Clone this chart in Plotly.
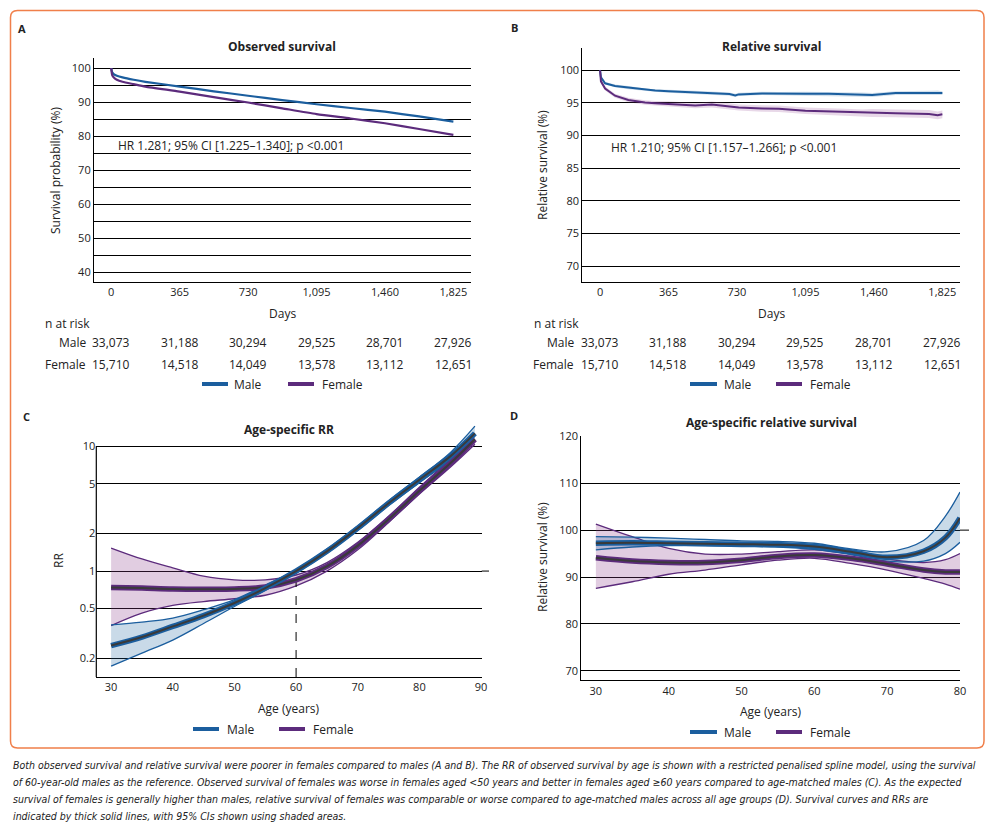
import plotly.graph_objects as go

W, H = 992, 831

# ---------------- DATA ----------------
days_ticks = [0, 365, 730, 1095, 1460, 1825]
days_ticktext = ["0", "365", "730", "1,095", "1,460", "1,825"]
risk_male = ["33,073", "31,188", "30,294", "29,525", "28,701", "27,926"]
risk_female = ["15,710", "14,518", "14,049", "13,578", "13,112", "12,651"]

# Panel A: observed survival (%)
obs_days = [0, 5, 15, 30, 60, 120, 182, 365, 547, 730, 912, 1095, 1277, 1460, 1642, 1825]
obs_male = [100, 98.8, 98.2, 97.8, 97.3, 96.6, 96.0, 94.6, 93.2, 91.9, 90.6, 89.4, 88.3, 87.2, 85.8, 84.3]
obs_female = [100, 98.0, 97.2, 96.6, 96.0, 95.3, 94.6, 93.1, 91.5, 89.9, 88.2, 86.5, 85.2, 83.8, 82.1, 80.4]

# Panel B: relative survival (%)
rel_days = [0, 5, 27, 80, 151, 240, 294, 365, 507, 596, 690, 721, 739, 864, 953, 1095, 1220, 1309, 1398, 1451, 1576, 1754, 1800, 1825]
rel_male = [100, 98.9, 98.0, 97.6, 97.35, 97.0, 96.9, 96.8, 96.6, 96.5, 96.35, 96.15, 96.3, 96.45, 96.4, 96.4, 96.4, 96.35, 96.3, 96.2, 96.5, 96.55, 96.6, 96.5]
rel_male_lo = [99.8, 98.7, 97.8, 97.4, 97.1, 96.8, 96.7, 96.55, 96.35, 96.25, 96.1, 95.9, 96.05, 96.2, 96.15, 96.1, 96.1, 96.05, 96.0, 95.9, 96.2, 96.25, 96.3, 96.2]
rel_male_hi = [100.2, 99.1, 98.2, 97.8, 97.6, 97.2, 97.1, 97.05, 96.85, 96.75, 96.6, 96.4, 96.55, 96.7, 96.65, 96.7, 96.7, 96.65, 96.6, 96.5, 96.8, 96.85, 96.9, 96.8]
rel_female = [100, 98.3, 97.2, 96.1, 95.45, 95.05, 94.95, 94.85, 94.6, 94.75, 94.5, 94.35, 94.3, 94.15, 94.1, 93.8, 93.7, 93.55, 93.45, 93.45, 93.4, 93.3, 93.1, 93.25]
rel_female_lo = [99.7, 98.0, 96.9, 95.8, 95.1, 94.7, 94.6, 94.45, 94.2, 94.3, 94.05, 93.9, 93.85, 93.65, 93.6, 93.3, 93.15, 93.0, 92.9, 92.85, 92.8, 92.7, 92.5, 92.65]
rel_female_hi = [100.3, 98.6, 97.5, 96.4, 95.8, 95.4, 95.3, 95.25, 95.0, 95.2, 94.95, 94.8, 94.75, 94.65, 94.6, 94.3, 94.25, 94.1, 94.0, 94.05, 94.0, 93.9, 93.7, 93.85]

# Panel C: age-specific RR
rr_age = [30, 35, 40, 45, 50, 55, 60, 65, 70, 75, 80, 85, 89]
rr_male = [0.253, 0.296, 0.36, 0.44, 0.555, 0.73, 1.0, 1.44, 2.21, 3.5, 5.4, 8.3, 12.7]
rr_male_hi = [0.37, 0.39, 0.42, 0.49, 0.59, 0.77, 1.03, 1.5, 2.3, 3.65, 5.65, 8.9, 14.5]
rr_male_lo = [0.173, 0.22, 0.28, 0.38, 0.52, 0.70, 0.965, 1.39, 2.12, 3.35, 5.1, 7.7, 11.1]
rr_female = [0.74, 0.73, 0.718, 0.715, 0.718, 0.745, 0.85, 1.09, 1.6, 2.6, 4.4, 7.3, 11.4]
rr_female_hi = [1.53, 1.25, 1.06, 0.91, 0.85, 0.85, 0.93, 1.17, 1.7, 2.75, 4.7, 7.9, 12.5]
rr_female_lo = [0.365, 0.46, 0.53, 0.57, 0.60, 0.64, 0.76, 1.0, 1.48, 2.45, 4.15, 6.8, 10.4]
rr_ticks = [0.2, 0.5, 1, 2, 5, 10]

# Panel D: age-specific relative survival (%)
rs_age = [30, 35, 40, 45, 50, 55, 60, 65, 70, 75, 78, 80]
rs_male = [97.2, 97.3, 97.2, 97.1, 97.0, 96.9, 96.5, 95.4, 94.2, 95.5, 98.4, 102.6]
rs_male_hi = [98.6, 98.5, 98.3, 98.0, 97.7, 97.6, 97.2, 96.0, 95.4, 97.8, 103.0, 108.1]
rs_male_lo = [95.8, 96.4, 96.7, 96.7, 96.5, 96.4, 95.9, 94.8, 93.4, 93.4, 95.0, 97.4]
rs_female = [94.1, 93.4, 93.1, 93.1, 93.6, 94.4, 94.7, 94.0, 92.8, 91.5, 91.1, 91.1]
rs_female_hi = [101.3, 98.6, 96.1, 94.9, 94.9, 95.4, 95.8, 94.9, 93.8, 93.1, 93.7, 95.0]
rs_female_lo = [87.6, 89.0, 90.6, 91.5, 92.6, 93.6, 94.0, 92.9, 91.5, 89.7, 88.5, 87.4]

# ---------------- STYLE ----------------
MALE = "#1B5E9E"
FEMALE = "#5C2B7C"
MALE_FILL = "rgba(31,99,160,0.24)"
FEMALE_FILL = "rgba(140,60,140,0.26)"
DARK = "#3a3a3a"
FONT = "Open Sans"
BORDER = "#F07F4A"


def px(x):
    return x / W


def py(y):
    return 1 - y / H


fig = go.Figure()


def add_band(xs, lo, hi, color, fill, xa, ya, shape="linear", lw=1.3):
    fig.add_trace(go.Scatter(x=xs, y=lo, mode="lines", line=dict(color=color, width=lw, shape=shape),
                             showlegend=False, hoverinfo="skip", xaxis=xa, yaxis=ya))
    fig.add_trace(go.Scatter(x=xs, y=hi, mode="lines", line=dict(color=color, width=lw, shape=shape),
                             fill="tonexty", fillcolor=fill, showlegend=False, hoverinfo="skip",
                             xaxis=xa, yaxis=ya))


def add_fit(xs, ys, color, xa, ya):
    fig.add_trace(go.Scatter(x=xs, y=ys, mode="lines", line=dict(color=color, width=5.5, shape="spline"),
                             showlegend=False, xaxis=xa, yaxis=ya))
    fig.add_trace(go.Scatter(x=xs, y=ys, mode="lines", line=dict(color=DARK, width=2, shape="spline"),
                             showlegend=False, xaxis=xa, yaxis=ya))


# Panel A
fig.add_trace(go.Scatter(x=obs_days, y=obs_male, mode="lines", line=dict(color=MALE, width=2.2, shape="spline", smoothing=0.6),
                         name="Male", showlegend=False, xaxis="x", yaxis="y"))
fig.add_trace(go.Scatter(x=obs_days, y=obs_female, mode="lines", line=dict(color=FEMALE, width=2.2, shape="spline", smoothing=0.6),
                         name="Female", showlegend=False, xaxis="x", yaxis="y"))

# Panel B
add_band(rel_days, rel_male_lo, rel_male_hi, "rgba(0,0,0,0)", "rgba(31,99,160,0.2)", "x2", "y2", lw=0)
add_band(rel_days, rel_female_lo, rel_female_hi, "rgba(0,0,0,0)", "rgba(140,60,140,0.2)", "x2", "y2", lw=0)
fig.add_trace(go.Scatter(x=rel_days, y=rel_male, mode="lines", line=dict(color=MALE, width=2),
                         showlegend=False, xaxis="x2", yaxis="y2"))
fig.add_trace(go.Scatter(x=rel_days, y=rel_female, mode="lines", line=dict(color=FEMALE, width=2),
                         showlegend=False, xaxis="x2", yaxis="y2"))

# Panel C
C_YMIN = 10 ** -0.849
add_band(rr_age, rr_female_lo, rr_female_hi, FEMALE, FEMALE_FILL, "x3", "y3", shape="spline")
add_band(rr_age, rr_male_lo, rr_male_hi, MALE, MALE_FILL, "x3", "y3", shape="spline")
fig.add_trace(go.Scatter(x=[60, 60], y=[C_YMIN, 1], mode="lines", line=dict(color="black", width=1, dash="dash"),
                         showlegend=False, hoverinfo="skip", xaxis="x3", yaxis="y3"))
add_fit(rr_age, rr_female, FEMALE, "x3", "y3")
add_fit(rr_age, rr_male, MALE, "x3", "y3")

# Panel D
add_band(rs_age, rs_female_lo, rs_female_hi, FEMALE, FEMALE_FILL, "x4", "y4", shape="spline")
add_band(rs_age, rs_male_lo, rs_male_hi, MALE, MALE_FILL, "x4", "y4", shape="spline")
add_fit(rs_age, rs_female, FEMALE, "x4", "y4")
add_fit(rs_age, rs_male, MALE, "x4", "y4")

tickfont = dict(family=FONT, size=11, color="#222")
common_y = dict(showline=True, linecolor="black", linewidth=1.2, showgrid=True, gridcolor="black", gridwidth=1,
                ticks="", tickfont=tickfont, zeroline=False, fixedrange=True, automargin=False)
common_x = dict(showline=True, linecolor="black", linewidth=1.2, showgrid=False, ticks="", tickfont=tickfont,
                zeroline=False, fixedrange=True, automargin=False)

# Domains
A_x = [px(94), px(471)]
A_y = [py(282), py(58)]
B_x = [px(582.3), px(960)]
B_y = [py(282), py(48)]
C_x = [px(96.3), px(481.7)]
C_y = [py(677), py(424)]
D_x = [px(581.3), px(960)]
D_y = [py(680.3), py(435.8)]

C_RANGE = [-0.849, 1.1787]

fig.update_layout(
    width=W, height=H, margin=dict(l=0, r=0, t=0, b=0, pad=0, autoexpand=False),
    paper_bgcolor="white", plot_bgcolor="white", showlegend=False,
    font=dict(family=FONT, size=12, color="#222"),
    xaxis=dict(domain=A_x, anchor="y", range=[-92, 1919], tickvals=days_ticks, ticktext=days_ticktext, **common_x),
    yaxis=dict(domain=A_y, anchor="x", range=[37.1, 103.0], tickvals=list(range(40, 101, 5)),
               ticktext=[str(v) if v % 10 == 0 else "" for v in range(40, 101, 5)], **common_y),
    xaxis2=dict(domain=B_x, anchor="y2", range=[-94.5, 1919], tickvals=days_ticks, ticktext=days_ticktext, **common_x),
    yaxis2=dict(domain=B_y, anchor="x2", range=[67.6, 103.4], tickvals=list(range(70, 101, 5)), **common_y),
    xaxis3=dict(domain=C_x, anchor="y3", range=[27.6, 90.1], tickvals=[30, 40, 50, 60, 70, 80, 90], **common_x),
    yaxis3=dict(domain=C_y, anchor="x3", type="log", range=C_RANGE, tickvals=rr_ticks,
                ticktext=["0.2", "0.5", "1", "2", "5", "10"],
                **{**common_y, "showline": False}),
    xaxis4=dict(domain=D_x, anchor="y4", range=[28.0, 80.0], tickvals=[30, 40, 50, 60, 70, 80], **common_x),
    yaxis4=dict(domain=D_y, anchor="x4", range=[68.0, 120.1], tickvals=[70, 80, 90, 100, 110, 120], **common_y),
)

shapes = []
# Orange rounded border
x0, x1, y0, y1 = px(10.5), px(984), py(748), py(10.5)
rx, ry = 7 / W, 7 / H
path = (f"M {x0+rx},{y1} L {x1-rx},{y1} Q {x1},{y1} {x1},{y1-ry} L {x1},{y0+ry} Q {x1},{y0} {x1-rx},{y0} "
        f"L {x0+rx},{y0} Q {x0},{y0} {x0},{y0+ry} L {x0},{y1-ry} Q {x0},{y1} {x0+rx},{y1} Z")
shapes.append(dict(type="path", path=path, xref="paper", yref="paper", line=dict(color=BORDER, width=1.5)))

# Panel C left axis line (from bottom to the 10 gridline)
c_y10 = C_y[0] + (1 - C_RANGE[0]) / (C_RANGE[1] - C_RANGE[0]) * (C_y[1] - C_y[0])
c_y1 = C_y[0] + (0 - C_RANGE[0]) / (C_RANGE[1] - C_RANGE[0]) * (C_y[1] - C_y[0])
shapes.append(dict(type="line", xref="paper", yref="paper", x0=C_x[0], x1=C_x[0], y0=C_y[0], y1=c_y10,
                   line=dict(color="black", width=1.2)))
# dashed reference stubs beyond right edge
shapes.append(dict(type="line", xref="paper", yref="paper", x0=C_x[1], x1=px(489), y0=c_y1, y1=c_y1,
                   line=dict(color="black", width=1, dash="dash")))
d_y100 = D_y[0] + (100 - 68.0) / (120.1 - 68.0) * (D_y[1] - D_y[0])
shapes.append(dict(type="line", xref="paper", yref="paper", x0=D_x[1], x1=px(974), y0=d_y100, y1=d_y100,
                   line=dict(color="black", width=1, dash="dash")))

# Legends (manual)
legend_rows = [
    (202, 228, 232, 288, 314, 320, 384),
    (690, 717, 722, 776, 802, 808, 384),
    (193, 219, 225, 279, 305, 311, 729),
    (690, 717, 722, 776, 802, 808, 732),
]
ann = []
for mx0, mx1, mtx, fx0, fx1, ftx, ly in legend_rows:
    shapes.append(dict(type="line", xref="paper", yref="paper", x0=px(mx0), x1=px(mx1), y0=py(ly), y1=py(ly),
                       line=dict(color=MALE, width=4)))
    shapes.append(dict(type="line", xref="paper", yref="paper", x0=px(fx0), x1=px(fx1), y0=py(ly), y1=py(ly),
                       line=dict(color=FEMALE, width=4)))
    ann.append(dict(x=px(mtx), y=py(ly), text="Male", xanchor="left", yanchor="middle", font=dict(size=12)))
    ann.append(dict(x=px(ftx), y=py(ly), text="Female", xanchor="left", yanchor="middle", font=dict(size=12)))

fig.update_layout(shapes=shapes)


def A(x, y, text, size=12, bold=False, xanchor="center", textangle=0, italic=False, family=None, color="#222"):
    t = f"<b>{text}</b>" if bold else text
    if italic:
        t = f"<i>{t}</i>"
    d = dict(x=px(x), y=py(y), text=t, xanchor=xanchor, yanchor="middle", textangle=textangle,
             font=dict(size=size, color=color, **({"family": family} if family else {})))
    ann.append(d)


# panel labels
A(22, 29, "A", 11, bold=True)
A(514, 27, "B", 11, bold=True)
A(26, 416, "C", 11, bold=True)
A(514, 415, "D", 11, bold=True)
# titles
A(282, 47, "Observed survival", 12, bold=True)
A(771, 47, "Relative survival", 12, bold=True)
A(289, 429, "Age-specific RR", 12, bold=True)
A(771, 422, "Age-specific relative survival", 12, bold=True)
# y titles
A(55, 171, "Survival probability (%)", 12, textangle=-90)
A(543, 165, "Relative survival (%)", 12, textangle=-90)
A(58, 561, "RR", 12, textangle=-90)
A(542, 557, "Relative survival (%)", 12, textangle=-90)
# x titles
A(282, 313, "Days", 12)
A(771, 313, "Days", 12)
A(289, 708, "Age (years)", 12)
A(771, 711, "Age (years)", 12)
# HR texts
A(116, 146, "HR 1.281; 95% CI [1.225–1.340]; p &lt;0.001", 12, xanchor="left")
A(608.7, 148, "HR 1.210; 95% CI [1.157–1.266]; p &lt;0.001", 12, xanchor="left")
# n at risk
A(43, 323, "n at risk", 12, xanchor="left")
A(531.7, 323, "n at risk", 12, xanchor="left")
A(88, 343, "Male", 12, xanchor="right")
A(88, 364, "Female", 12, xanchor="right")
A(576, 343, "Male", 12, xanchor="right")
A(576, 364, "Female", 12, xanchor="right")
for xa in ["x", "x2"]:
    for d, m, f in zip(days_ticks, risk_male, risk_female):
        ann.append(dict(x=d, y=py(343), xref=xa, yref="paper", text=m, xanchor="center", yanchor="middle",
                        font=dict(size=12)))
        ann.append(dict(x=d, y=py(364), xref=xa, yref="paper", text=f, xanchor="center", yanchor="middle",
                        font=dict(size=12)))

caption = [
    "Both observed survival and relative survival were poorer in females compared to males (A and B). The RR of observed survival by age is shown with a restricted penalised spline model, using the survival",
    "of 60-year-old males as the reference. Observed survival of females was worse in females aged &lt;50 years and better in females aged ≥60 years compared to age-matched males (C). As the expected",
    "survival of females is generally higher than males, relative survival of females was comparable or worse compared to age-matched males across all age groups (D). Survival curves and RRs are",
    "indicated by thick solid lines, with 95% CIs shown using shaded areas.",
]
for i, line in enumerate(caption):
    A(11, 765 + i * 17.1, line, 10.5, xanchor="left", italic=True, family="DejaVu Sans Condensed", color="#222")

for a in ann:
    a.setdefault("xref", "paper")
    a.setdefault("yref", "paper")
    a["showarrow"] = False
fig.update_layout(annotations=ann)

fig.write_html("out.html", config={"displayModeBar": False},
               post_script="document.body.style.margin='0';document.body.style.overflow='hidden';")
